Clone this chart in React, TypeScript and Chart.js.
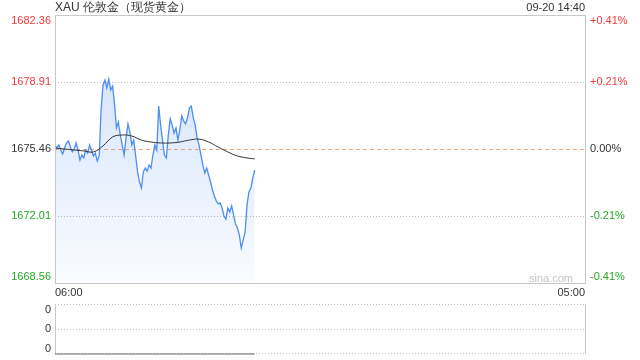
import React, { useEffect, useRef } from "react";
import { Chart, registerables } from "chart.js";
Chart.register(...registerables);

const titleText = "XAU 伦敦金（现货黄金）";
const stampText = "09-20 14:40";
const watermark = "sina.com";
const prevClose = 1675.46;
const priceTicks = [1682.36, 1678.91, 1675.46, 1672.01, 1668.56];
const pctTicks = ["+0.41%", "+0.21%", "0.00%", "-0.21%", "-0.41%"];
const timeLabels = ["06:00", "05:00"];
const sessionMinutes = 1380;
const stepMinutes = 5;

// price every 5 minutes from 06:00
const prices = [
  1675.62, 1675.51, 1675.67, 1675.41, 1675.20, 1675.51, 1675.77, 1675.87, 1675.56, 1675.31,
  1675.46, 1675.77, 1675.41, 1674.89, 1675.15, 1675.00, 1675.41, 1675.25, 1675.67, 1675.41,
  1675.10, 1675.25, 1674.84, 1675.10, 1677.47, 1678.76, 1679.01, 1678.60, 1679.06, 1678.50,
  1678.70, 1677.78, 1676.54, 1676.85, 1676.18, 1675.67, 1675.15, 1676.03, 1676.75, 1676.34,
  1675.67, 1675.92, 1675.10, 1674.28, 1673.76, 1673.45, 1674.28, 1674.48, 1674.33, 1674.64,
  1674.48, 1675.15, 1675.67, 1675.41, 1677.67, 1676.70, 1675.92, 1675.15, 1675.00, 1676.18,
  1677.01, 1676.70, 1676.28, 1676.54, 1675.92, 1676.44, 1677.16, 1676.90, 1676.75, 1677.06,
  1677.57, 1677.67, 1677.06, 1676.70, 1676.03, 1675.67, 1675.15, 1674.64, 1674.22, 1674.48,
  1674.12, 1673.76, 1673.35, 1673.04, 1672.78, 1672.63, 1672.68, 1672.42, 1672.01, 1671.86,
  1672.42, 1672.22, 1672.53, 1672.06, 1671.60, 1671.39, 1671.03, 1670.36, 1670.78, 1671.19,
  1672.58, 1673.25, 1673.45, 1673.97, 1674.38,
];

const avgMinutes = [0, 25, 50, 75, 100, 125, 150, 175, 200, 225, 250, 275, 300, 325, 350, 375, 400, 425, 450, 475, 500, 520];
const avgPrices = [
  1675.51, 1675.46, 1675.41, 1675.36, 1675.31, 1675.62, 1676.08, 1676.18, 1676.13, 1675.92,
  1675.82, 1675.77, 1675.77, 1675.82, 1675.92, 1675.97, 1675.82, 1675.56, 1675.31, 1675.10,
  1675.00, 1674.95,
];

const volumeTicks = [1, 0.5, 0];
const volumeTickLabels = ["0", "0", "0"];
const volumeMinutes = [0, 520];
const volumes = [0, 0];

const FONT = '"Liberation Sans", Arial, sans-serif';
const RED = "#f03a3a";
const GREEN = "#22a822";
const DARK = "#333333";
const BORDER = "#c8c8c8";

function tickColor(v: number) {
  if (v > prevClose + 1e-6) return RED;
  if (v < prevClose - 1e-6) return GREEN;
  return DARK;
}

const mainPlugin = {
  id: "mainDecor",
  beforeDatasetsDraw(chart: any) {
    const { ctx, chartArea: a, scales } = chart;
    const y = scales.y;
    ctx.save();
    ctx.lineWidth = 1;
    priceTicks.forEach((v, i) => {
      if (i === 0 || i === priceTicks.length - 1) return;
      const py = Math.round(y.getPixelForValue(v)) + 0.5;
      ctx.beginPath();
      if (v === prevClose) {
        ctx.setLineDash([4, 3]);
        ctx.strokeStyle = "#f3a57f";
      } else {
        ctx.setLineDash([1, 2]);
        ctx.strokeStyle = "#bdbdbd";
      }
      ctx.moveTo(a.left, py);
      ctx.lineTo(a.right, py);
      ctx.stroke();
    });
    ctx.restore();
  },
  afterDraw(chart: any) {
    const { ctx, chartArea: a, scales } = chart;
    const y = scales.y;
    ctx.save();
    ctx.strokeStyle = BORDER;
    ctx.lineWidth = 1;
    ctx.setLineDash([]);
    ctx.strokeRect(Math.round(a.left) + 0.5, Math.round(a.top) + 0.5, Math.round(a.right - a.left), Math.round(a.bottom - a.top));

    ctx.font = "11px " + FONT;
    ctx.textBaseline = "middle";
    priceTicks.forEach((v, i) => {
      let py = y.getPixelForValue(v);
      if (i === 0) py += 6;
      if (i === priceTicks.length - 1) py -= 6;
      ctx.fillStyle = tickColor(v);
      ctx.textAlign = "right";
      ctx.fillText(v.toFixed(2), a.left - 4, py);
      ctx.textAlign = "left";
      ctx.fillText(pctTicks[i], a.right + 5, py);
    });

    ctx.fillStyle = DARK;
    ctx.font = "12px " + FONT;
    ctx.textAlign = "left";
    ctx.fillText(titleText, a.left, 8);
    ctx.font = "11px " + FONT;
    ctx.textAlign = "right";
    ctx.fillText(stampText, a.right, 8);

    ctx.textAlign = "left";
    ctx.fillText(timeLabels[0], a.left, a.bottom + 10);
    ctx.textAlign = "right";
    ctx.fillText(timeLabels[1], a.right, a.bottom + 10);

    ctx.fillStyle = "#c4c4c4";
    ctx.textAlign = "right";
    ctx.fillText(watermark, a.right - 12, a.bottom - 4);
    ctx.restore();
  },
};

const volPlugin = {
  id: "volDecor",
  beforeDatasetsDraw(chart: any) {
    const { ctx, chartArea: a, scales } = chart;
    const y = scales.y;
    ctx.save();
    ctx.lineWidth = 1;
    ctx.strokeStyle = "#bdbdbd";
    ctx.setLineDash([1, 2]);
    volumeTicks.forEach((v) => {
      const py = Math.round(y.getPixelForValue(v)) - 0.5 + (v === 0 ? 0 : 1);
      ctx.beginPath();
      ctx.moveTo(a.left, py);
      ctx.lineTo(a.right, py);
      ctx.stroke();
    });
    ctx.setLineDash([]);
    ctx.strokeStyle = BORDER;
    ctx.beginPath();
    ctx.moveTo(Math.round(a.left) + 0.5, a.top);
    ctx.lineTo(Math.round(a.left) + 0.5, a.bottom);
    ctx.moveTo(Math.round(a.right) + 0.5, a.top);
    ctx.lineTo(Math.round(a.right) + 0.5, a.bottom);
    ctx.stroke();

    ctx.fillStyle = DARK;
    ctx.font = "11px " + FONT;
    ctx.textBaseline = "middle";
    ctx.textAlign = "right";
    volumeTicks.forEach((v, i) => {
      let py = y.getPixelForValue(v);
      if (i === 0) py += 6;
      if (i === volumeTicks.length - 1) py -= 5;
      ctx.fillText(volumeTickLabels[i], a.left - 4, py);
    });
    ctx.restore();
  },
};

export default function App() {
  const mainRef = useRef<HTMLCanvasElement>(null);
  const volRef = useRef<HTMLCanvasElement>(null);

  useEffect(() => {
    const priceData = prices.map((v, i) => ({ x: i * stepMinutes, y: v }));
    const avgData = avgPrices.map((v, i) => ({ x: avgMinutes[i], y: v }));
    const volData = volumes.map((v, i) => ({ x: volumeMinutes[i], y: v }));

    const main = new Chart(mainRef.current as HTMLCanvasElement, {
      type: "line",
      data: {
        datasets: [
          {
            data: avgData,
            borderColor: "#333333",
            borderWidth: 1,
            pointRadius: 0,
            tension: 0.4,
            fill: false,
            order: 0,
          },
          {
            data: priceData,
            borderColor: "#4d8ef0",
            borderWidth: 1.3,
            pointRadius: 0,
            tension: 0,
            fill: "start",
            order: 1,
            backgroundColor: (c: any) => {
              const a = c.chart.chartArea;
              if (!a) return "rgba(77,142,240,0.15)";
              const g = c.chart.ctx.createLinearGradient(0, a.top, 0, a.bottom);
              g.addColorStop(0, "rgba(77,142,240,0.28)");
              g.addColorStop(1, "rgba(77,142,240,0.03)");
              return g;
            },
          },
        ],
      },
      options: {
        responsive: false,
        animation: false,
        events: [],
        layout: { padding: { left: 55, right: 55, top: 15, bottom: 77 } },
        plugins: { legend: { display: false }, tooltip: { enabled: false } },
        scales: {
          x: { type: "linear", min: 0, max: sessionMinutes, display: false },
          y: { type: "linear", min: priceTicks[priceTicks.length - 1], max: priceTicks[0], display: false },
        },
      },
      plugins: [mainPlugin],
    } as any);

    const vol = new Chart(volRef.current as HTMLCanvasElement, {
      type: "line",
      data: {
        datasets: [
          {
            data: volData,
            borderColor: "#666666",
            borderWidth: 1,
            pointRadius: 0,
            fill: false,
            clip: 4,
          },
        ],
      },
      options: {
        responsive: false,
        animation: false,
        events: [],
        layout: { padding: { left: 55, right: 55, top: 304, bottom: 6 } },
        plugins: { legend: { display: false }, tooltip: { enabled: false } },
        scales: {
          x: { type: "linear", min: 0, max: sessionMinutes, display: false },
          y: { type: "linear", min: 0, max: 1, display: false },
        },
      },
      plugins: [volPlugin],
    } as any);

    return () => {
      main.destroy();
      vol.destroy();
    };
  }, []);

  return (
    <div style={{ position: "absolute", left: 0, top: 0, width: 640, height: 360, background: "#fff" }}>
      <canvas ref={mainRef} width={640} height={360} style={{ position: "absolute", left: 0, top: 0 }} />
      <canvas ref={volRef} width={640} height={360} style={{ position: "absolute", left: 0, top: 0 }} />
    </div>
  );
}
